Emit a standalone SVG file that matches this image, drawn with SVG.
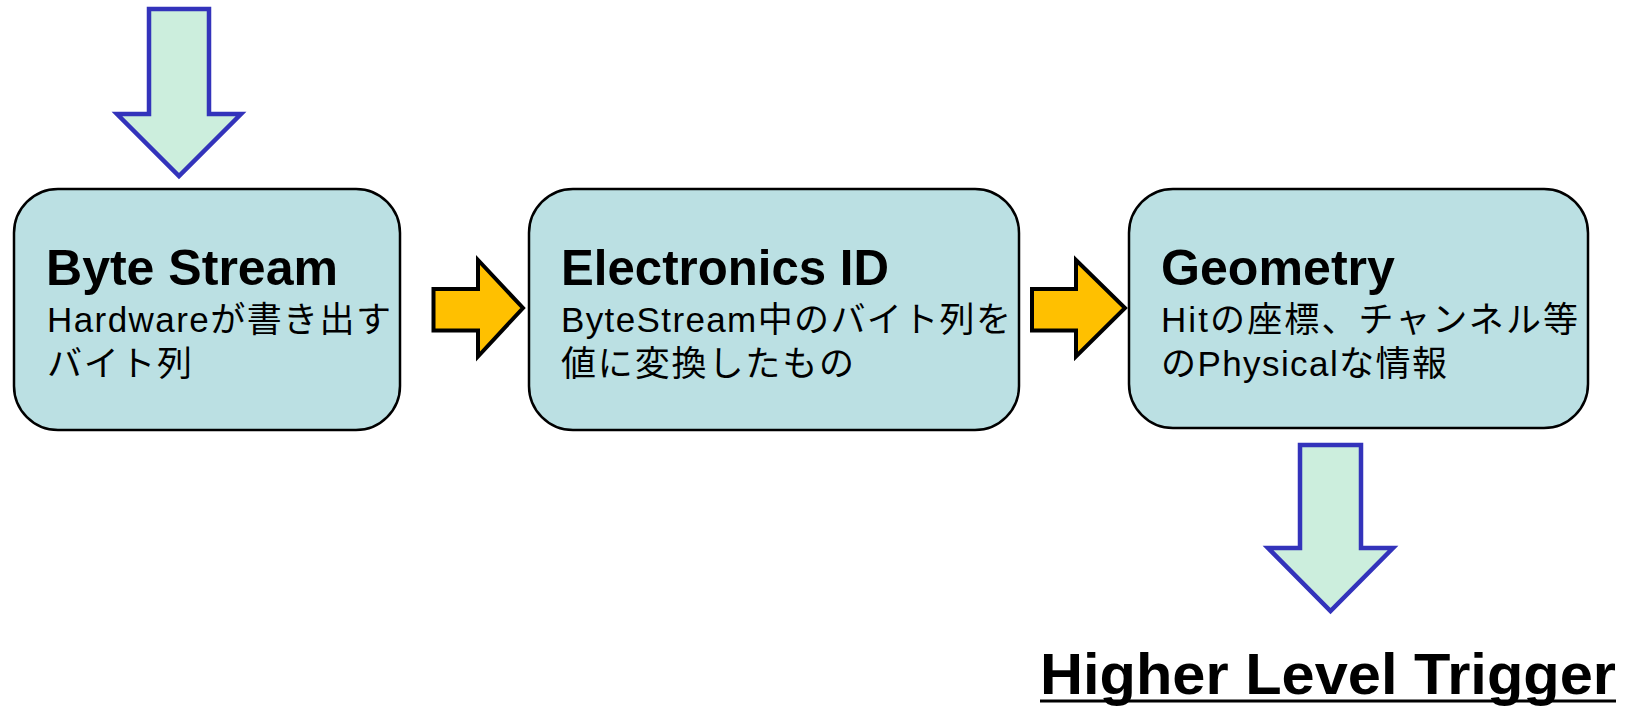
<svg xmlns="http://www.w3.org/2000/svg" width="1630" height="709" viewBox="0 0 1630 709">
  <style>
    .box { fill: #BBE0E3; stroke: #000; stroke-width: 2.5; }
    .title { font-family: "Liberation Sans", Arial, "Noto Sans CJK JP", sans-serif; font-weight: bold; font-size: 50px; fill: #000; }
    .body { font-family: "Liberation Sans", Arial, "Noto Sans CJK JP", sans-serif; font-size: 35px; fill: #000; }
    .flow { fill: #FFC000; stroke: #000; stroke-width: 4; stroke-linejoin: miter; }
    .io { fill: #CCEEDD; stroke: #3333BB; stroke-width: 4.5; stroke-linejoin: miter; }
    .label { font-family: "Liberation Sans", Arial, sans-serif; font-weight: bold; font-size: 57px; fill: #000; }
  </style>

  <!-- input and output block arrows -->
  <g id="connectors">
    <polygon class="io" points="149,9 209,9 209,114 241,114 179,176 117,114 149,114"/>
    <polygon class="flow" points="433.5,289 478,289 478,260 523,308 478,356.5 478,330.5 433.5,330.5"/>
    <polygon class="flow" points="1032,289 1076,289 1076,260 1125,308 1076,356.5 1076,330.5 1032,330.5"/>
    <polygon class="io" points="1300,445 1361,445 1361,548 1393,548 1330.5,611 1268,548 1300,548"/>
  </g>

  <g id="byte-stream">
    <rect class="box" x="14" y="189" width="386" height="241" rx="44" ry="44"/>
    <text class="title" x="46" y="285" textLength="292" lengthAdjust="spacingAndGlyphs">Byte Stream</text>
    <text class="body" x="47" y="332" textLength="344" lengthAdjust="spacing">Hardwareが書き出す</text>
    <text class="body" x="47" y="376" textLength="145" lengthAdjust="spacing">バイト列</text>
  </g>

  <g id="electronics-id">
    <rect class="box" x="529" y="189" width="490" height="241" rx="44" ry="44"/>
    <text class="title" x="561" y="285" textLength="328" lengthAdjust="spacingAndGlyphs">Electronics ID</text>
    <text class="body" x="561" y="332" textLength="450" lengthAdjust="spacing">ByteStream中のバイト列を</text>
    <text class="body" x="561" y="376" textLength="293" lengthAdjust="spacing">値に変換したもの</text>
  </g>

  <g id="geometry">
    <rect class="box" x="1129" y="189" width="459" height="239" rx="44" ry="44"/>
    <text class="title" x="1161" y="285" textLength="234" lengthAdjust="spacingAndGlyphs">Geometry</text>
    <text class="body" x="1161" y="332" textLength="417" lengthAdjust="spacing">Hitの座標、チャンネル等</text>
    <text class="body" x="1161" y="376" textLength="286" lengthAdjust="spacing">のPhysicalな情報</text>
  </g>

  <g id="higher-level-trigger">
    <text class="label" x="1040" y="694" textLength="576" lengthAdjust="spacingAndGlyphs">Higher Level Trigger</text>
    <line x1="1040" y1="701" x2="1616" y2="701" stroke="#000" stroke-width="3"/>
  </g>
</svg>
